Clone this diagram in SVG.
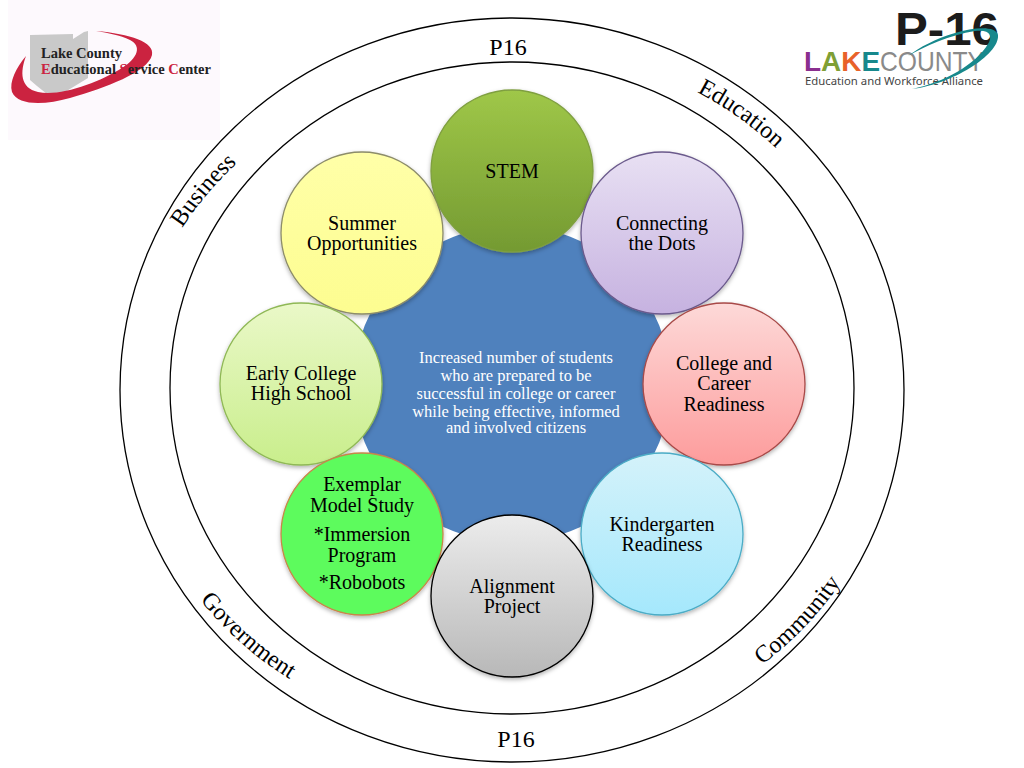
<svg xmlns="http://www.w3.org/2000/svg" width="1024" height="768" viewBox="0 0 1024 768">
<style>
.t{font-family:"Liberation Serif","Times New Roman",serif;font-size:20px;fill:#000;text-anchor:middle}
.r{font-family:"Liberation Serif","Times New Roman",serif;font-size:24px;fill:#000}
.w{font-family:"Liberation Serif","Times New Roman",serif;font-size:16.5px;fill:#fff;text-anchor:middle}
.ring{fill:none;stroke:#000;stroke-width:1.3}
.c{stroke-width:1.3}
.lg{font-family:"Liberation Serif",serif;font-size:14.5px;font-weight:bold;fill:#222}
</style>
<defs>
<linearGradient id="g1" x1="0" y1="0" x2="0" y2="1"><stop offset="0" stop-color="#9fc748"/><stop offset="1" stop-color="#749a32"/></linearGradient>
<linearGradient id="g2" x1="0" y1="0" x2="0" y2="1"><stop offset="0" stop-color="#e8e0f3"/><stop offset="1" stop-color="#c6b2e0"/></linearGradient>
<linearGradient id="g3" x1="0" y1="0" x2="0" y2="1"><stop offset="0" stop-color="#fdd9d8"/><stop offset="1" stop-color="#fd9c9c"/></linearGradient>
<linearGradient id="g4" x1="0" y1="0" x2="0" y2="1"><stop offset="0" stop-color="#d4f2fa"/><stop offset="1" stop-color="#a5e8fc"/></linearGradient>
<linearGradient id="g5" x1="0" y1="0" x2="0" y2="1"><stop offset="0" stop-color="#ececec"/><stop offset="1" stop-color="#b8b8b8"/></linearGradient>
<linearGradient id="g7" x1="0" y1="0" x2="0" y2="1"><stop offset="0" stop-color="#eaf8c8"/><stop offset="1" stop-color="#c9ee8c"/></linearGradient>
<linearGradient id="g8" x1="0" y1="0" x2="0" y2="1"><stop offset="0" stop-color="#ffffa8"/><stop offset="1" stop-color="#fdfd90"/></linearGradient>
<filter id="s" x="-10%" y="-10%" width="120%" height="120%"><feDropShadow dx="0" dy="2" stdDeviation="2" flood-color="#000" flood-opacity=".3"/></filter>
<path id="pBus" d="M182 228 A368 350 0 0 1 252 150"/>
<path id="pEdu" d="M697 92 A368 350 0 0 1 790 162"/>
<path id="pCom" d="M762 665 A368 350 0 0 0 846 575"/>
<path id="pGov" d="M200 600 A368 350 0 0 0 312 692"/>
</defs>
<rect width="1024" height="768" fill="#fff"/>
<g id="logo-left">
<rect x="8" y="0" width="212" height="140" fill="#fdf9fd"/>
<path d="M30 35 L73 34 L73 39 L84 32 L88 31 L88 78 L65 92 L47 94 L37 86 L30 80Z" fill="#c9c9c9"/>
<path d="M96 31 C130 34 155 42 152 55 C148 72 105 88 70 98 C45 105 18 106 12 92 C9 82 16 68 26 56 C20 72 20 88 38 92 C60 97 100 82 122 68 C138 58 142 46 130 40 C120 35 108 33 96 31Z" fill="#cb2340"/>
<text class="lg" x="41" y="58">Lake County</text>
<text class="lg" x="41" y="74"><tspan fill="#cb2340">E</tspan>ducational <tspan fill="#cb2340">S</tspan>ervice <tspan fill="#cb2340">C</tspan>enter</text>
</g>
<g id="logo-right">
<text x="895" y="45" font-family="'Liberation Sans',sans-serif" font-size="46" font-weight="bold" fill="#1c1c1c" textLength="104" lengthAdjust="spacingAndGlyphs">P-16</text>
<text x="804" y="71" font-family="'Liberation Sans',sans-serif" font-size="28" font-weight="bold" textLength="76" lengthAdjust="spacingAndGlyphs"><tspan fill="#8a2f8f">L</tspan><tspan fill="#7f9f35">A</tspan><tspan fill="#e8622a">K</tspan><tspan fill="#17888c">E</tspan></text>
<text x="880" y="71" font-family="'Liberation Sans',sans-serif" font-size="28" fill="#8a8a8a" textLength="104" lengthAdjust="spacingAndGlyphs">COUNTY</text>
<text x="805" y="85" font-family="'Noto Sans',sans-serif" font-size="11.5" fill="#444" textLength="178" lengthAdjust="spacingAndGlyphs">Education and Workforce Alliance</text>
<path d="M912 89 C950 85 1000 55 998 35 C996 26 975 27 955 33 C935 39 920 47 908 56 C925 46 950 35 975 31 C990 29 993 36 988 44 C975 65 945 82 912 89Z" fill="#17888c"/>
</g>
<g id="rings">
<ellipse class="ring" cx="512" cy="390" rx="392" ry="372"/>
<ellipse class="ring" cx="512" cy="388" rx="342" ry="326"/>
</g>
<g id="connectors"></g>
<g id="center"><circle cx="512" cy="384" r="160" fill="#4f81bd" stroke="#fff" stroke-width="3"/>
<text class="w"><tspan x="516" y="363">Increased  number of students</tspan><tspan x="516" y="381">who are prepared to be</tspan><tspan x="516" y="399">successful in college or career</tspan><tspan x="516" y="417">while being effective, informed</tspan><tspan x="516" y="433">and involved citizens</tspan></text></g>
<g id="n-summer"><circle class="c" cx="362" cy="233" r="81" fill="url(#g8)" stroke="#8c8c6a" filter="url(#s)"/><text class="t"><tspan x="362" y="230">Summer</tspan><tspan x="362" y="250">Opportunities</tspan></text></g>
<g id="n-early"><circle class="c" cx="301" cy="384" r="81" fill="url(#g7)" stroke="#8fb856" filter="url(#s)"/><text class="t"><tspan x="301" y="380">Early College</tspan><tspan x="301" y="400">High School</tspan></text></g>
<g id="n-stem"><circle class="c" cx="512" cy="171" r="81" fill="url(#g1)" stroke="#7f9f40" filter="url(#s)"/><text class="t" x="512" y="178">STEM</text></g>
<g id="n-connecting"><circle class="c" cx="662" cy="233" r="81" fill="url(#g2)" stroke="#6b5a8c" filter="url(#s)"/><text class="t"><tspan x="662" y="230">Connecting</tspan><tspan x="662" y="250">the Dots</tspan></text></g>
<g id="n-college"><circle class="c" cx="724" cy="384" r="81" fill="url(#g3)" stroke="#a84a48" filter="url(#s)"/><text class="t"><tspan x="724" y="370">College and</tspan><tspan x="724" y="390">Career</tspan><tspan x="724" y="411">Readiness</tspan></text></g>
<g id="n-kinder"><circle class="c" cx="662" cy="534" r="81" fill="url(#g4)" stroke="#4bacc6" filter="url(#s)"/><text class="t"><tspan x="662" y="531">Kindergarten</tspan><tspan x="662" y="551">Readiness</tspan></text></g>
<g id="n-exemplar"><circle class="c" cx="362" cy="534" r="81" fill="#5dfb5d" stroke="#c8864a" filter="url(#s)"/><text class="t"><tspan x="362" y="491">Exemplar</tspan><tspan x="362" y="512">Model  Study</tspan><tspan x="362" y="541">*Immersion</tspan><tspan x="362" y="562">Program</tspan><tspan x="362" y="589">*Robobots</tspan></text></g>
<g id="n-align"><circle class="c" cx="512" cy="596" r="81" fill="url(#g5)" stroke="#000" filter="url(#s)"/><text class="t"><tspan x="512" y="593">Alignment</tspan><tspan x="512" y="613">Project</tspan></text></g>
<g id="ring-labels">
<text class="r" x="508" y="55" text-anchor="middle">P16</text>
<text class="r" x="516" y="747" text-anchor="middle">P16</text>
<text class="r"><textPath href="#pBus" startOffset="0">Business</textPath></text>
<text class="r"><textPath href="#pEdu" startOffset="0">Education</textPath></text>
<text class="r"><textPath href="#pCom" startOffset="0">Community</textPath></text>
<text class="r"><textPath href="#pGov" startOffset="0">Government</textPath></text>
</g>
</svg>
